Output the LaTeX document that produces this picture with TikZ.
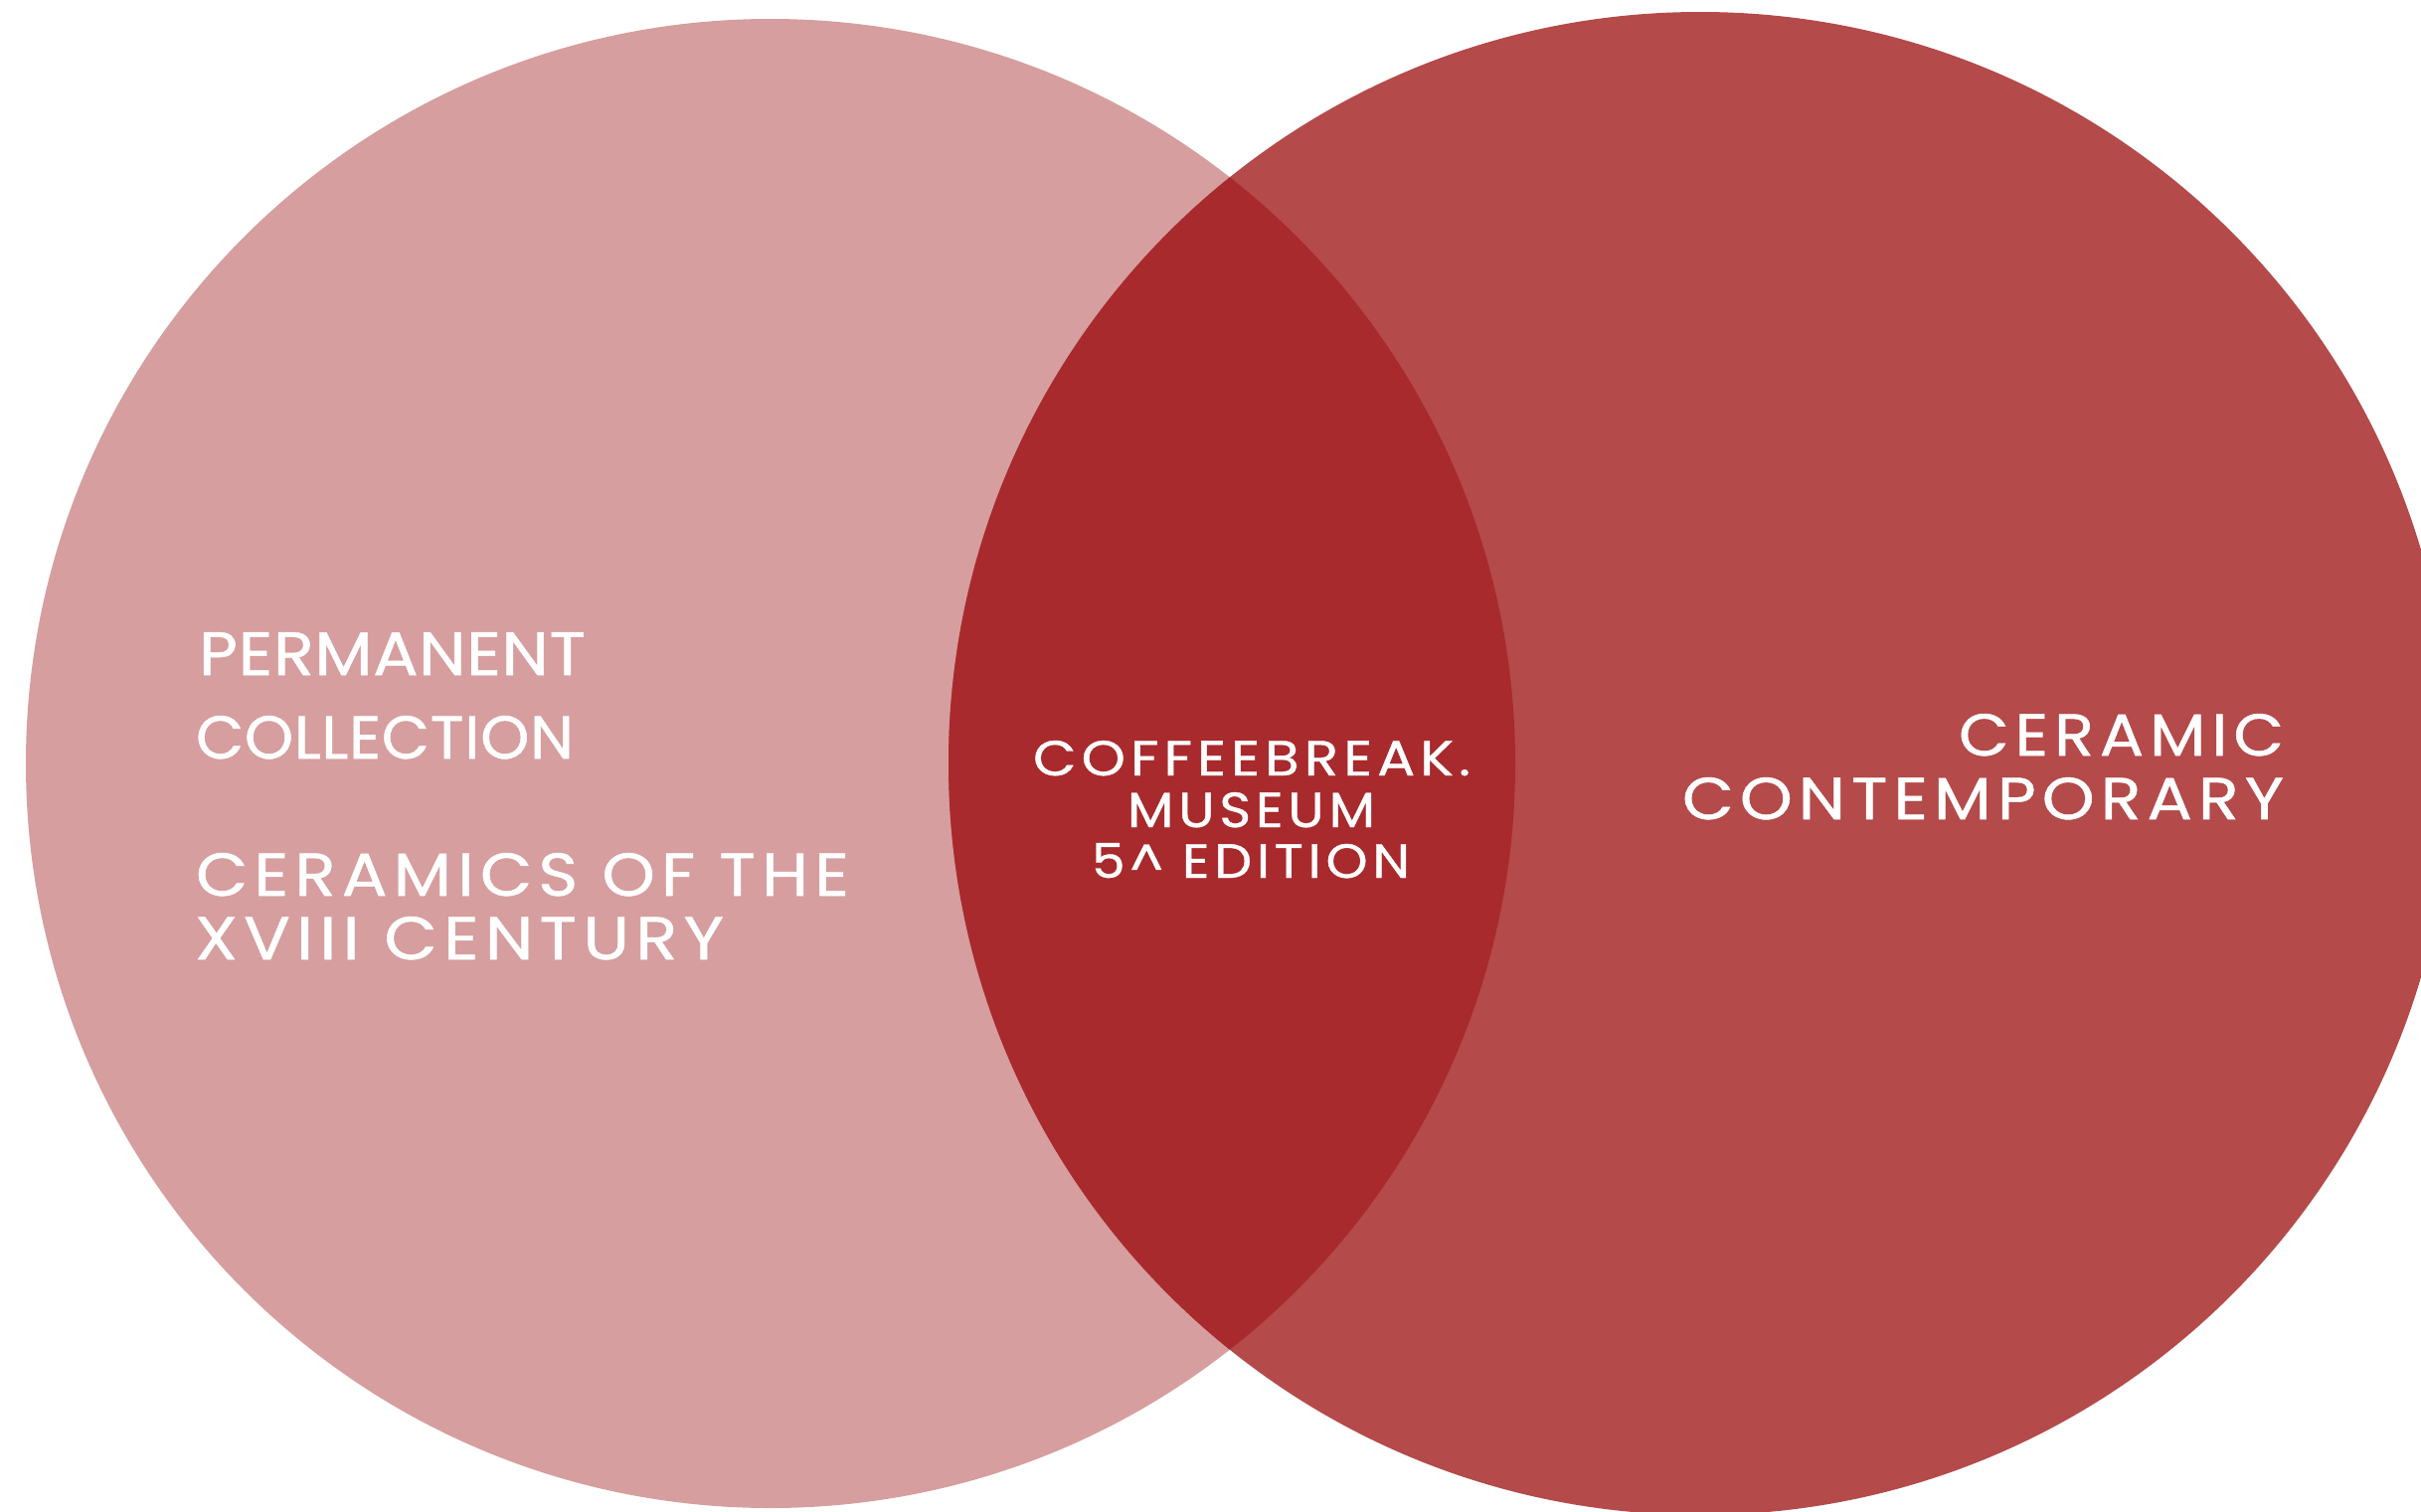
\documentclass[tikz,border=0pt]{standalone}
\usepackage{fontspec}
\usepackage{graphicx}
\newfontfamily\tightfont[LetterSpace=1,FakeBold=0.8]{Poppins}
\newfontfamily\widefont[LetterSpace=9,FakeBold=0.8]{Poppins}
\definecolor{leftc}{RGB}{214,158,158}
\definecolor{rightc}{RGB}{180,74,74}
\definecolor{midc}{RGB}{168,42,45}
\newcommand\fitline[3]{\resizebox{#1}{#2}{#3}}
\tikzset{
  lbl/.style={inner sep=0pt, outer sep=0pt, text=white, font=\fontsize{20pt}{24pt}\selectfont},
}
\begin{document}
\begin{tikzpicture}[x=0.1mm, y=-0.1mm]
\useasboundingbox (0,0) rectangle (2435,1520);
\clip (0,0) rectangle (2435,1520);
\fill[leftc] (775,768) circle[radius=74.9mm];
\fill[rightc] (1710,768) circle[radius=75.6mm];
\begin{scope}
  \clip (775,768) circle[radius=74.9mm];
  \fill[midc] (1710,768) circle[radius=75.6mm];
\end{scope}
% left texts
\node[lbl, anchor=north west] (perm) at (200,636) {\fitline{38.9mm}{4.3mm}{\tightfont PERMANENT}};
\node[lbl, anchor=north west] (coll) at (197,720) {\fitline{38.0mm}{4.3mm}{\tightfont COLLECTION}};
\node[lbl, anchor=north west] (cer18) at (197,858) {\fitline{65.7mm}{4.3mm}{\widefont CERAMICS OF THE}};
\node[lbl, anchor=north west] (cent) at (196,922) {\fitline{53.2mm}{4.3mm}{\widefont XVIII CENTURY}};
% centre texts
\node[lbl, anchor=north] (coffee) at (1259,745) {\fitline{44.0mm}{3.5mm}{\widefont COFFEEBREAK.}};
\node[lbl, anchor=north] (museum) at (1258.5,797) {\fitline{24.9mm}{3.5mm}{\widefont MUSEUM}};
\node[lbl, anchor=north] (edition) at (1258,848) {\fitline{32.0mm}{3.5mm}{\widefont 5\textasciicircum{} EDITION}};
% right texts
\node[lbl, anchor=north east] (ceramic) at (2297,718) {\fitline{32.7mm}{4.2mm}{\widefont CERAMIC}};
\node[lbl, anchor=north east] (contemp) at (2297,782) {\fitline{60.5mm}{4.2mm}{\widefont CONTEMPORARY}};
\end{tikzpicture}
\end{document}
